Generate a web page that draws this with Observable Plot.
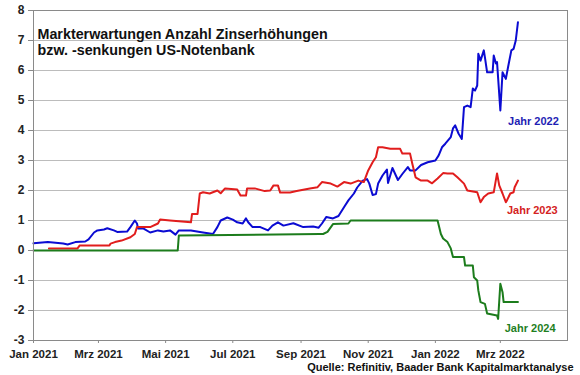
<!DOCTYPE html>
<html>
<head>
<meta charset="utf-8">
<script src="https://cdn.jsdelivr.net/npm/d3@7"></script>
<script src="https://cdn.jsdelivr.net/npm/@observablehq/plot@0.6"></script>
<style>
  html, body { margin: 0; padding: 0; background: #ffffff; }
  #chart { width: 580px; height: 375px; }
</style>
</head>
<body>
<div id="chart"></div>
<script>
// ---- Data ----
const titleText = "Markterwartungen Anzahl Zinserhöhungen\nbzw. -senkungen US-Notenbank";
const sourceText = "Quelle: Refinitiv, Baader Bank Kapitalmarktanalyse";

const yTicks = [-3, -2, -1, 0, 1, 2, 3, 4, 5, 6, 7, 8];
const xTickDates = ["2021-01-01", "2021-03-01", "2021-05-01", "2021-07-01", "2021-09-01", "2021-11-01", "2022-01-01", "2022-03-01"];
const xTickLabels = ["Jan 2021", "Mrz 2021", "Mai 2021", "Jul 2021", "Sep 2021", "Nov 2021", "Jan 2022", "Mrz 2022"];

const seriesNames = ["Jahr 2022", "Jahr 2023", "Jahr 2024"];

const dates2022 = ["2021-01-01","2021-01-14","2021-01-28","2021-02-01","2021-02-08","2021-02-17","2021-02-20","2021-02-25","2021-02-28","2021-03-06","2021-03-09","2021-03-15","2021-03-18","2021-03-27","2021-03-30","2021-04-03","2021-04-05","2021-04-06","2021-04-11","2021-04-17","2021-04-24","2021-04-29","2021-05-05","2021-05-10","2021-05-13","2021-05-24","2021-06-04","2021-06-13","2021-06-17","2021-06-20","2021-06-26","2021-07-01","2021-07-05","2021-07-10","2021-07-13","2021-07-15","2021-07-19","2021-07-26","2021-08-02","2021-08-06","2021-08-11","2021-08-16","2021-08-25","2021-09-03","2021-09-12","2021-09-17","2021-09-20","2021-09-24","2021-09-30","2021-10-05","2021-10-10","2021-10-14","2021-10-19","2021-10-22","2021-10-27","2021-10-31","2021-11-02","2021-11-05","2021-11-08","2021-11-10","2021-11-14","2021-11-18","2021-11-19","2021-11-23","2021-11-28","2021-12-02","2021-12-07","2021-12-09","2021-12-14","2021-12-19","2021-12-25","2022-01-01","2022-01-04","2022-01-07","2022-01-10","2022-01-15","2022-01-17","2022-01-19","2022-01-22","2022-01-25","2022-01-27","2022-01-30","2022-02-02","2022-02-04","2022-02-06","2022-02-08","2022-02-09","2022-02-11","2022-02-14","2022-02-15","2022-02-17","2022-02-22","2022-02-23","2022-02-25","2022-02-26","2022-03-01","2022-03-03","2022-03-06","2022-03-08","2022-03-11","2022-03-13","2022-03-15","2022-03-17"];
const values2022 = [0.24,0.28,0.23,0.20,0.28,0.30,0.37,0.60,0.67,0.70,0.74,0.67,0.62,0.63,0.78,1.00,0.90,0.73,0.73,0.60,0.67,0.63,0.67,0.53,0.67,0.67,0.60,0.55,0.78,1.00,1.10,1.03,0.94,0.90,1.07,0.94,0.78,0.78,0.67,0.83,0.94,0.83,0.91,0.78,0.80,0.76,0.90,1.12,1.07,1.15,1.44,1.67,1.90,2.10,2.33,2.38,2.23,1.85,1.88,2.23,2.50,2.70,2.25,2.75,2.35,2.55,2.78,2.67,2.67,2.85,2.94,3.00,3.17,3.44,3.56,3.78,4.07,4.17,3.90,3.72,4.78,4.83,4.78,5.40,5.33,5.50,6.56,6.33,6.67,6.44,5.94,5.94,6.50,6.23,6.28,4.67,5.94,5.72,6.11,6.67,6.72,7.00,7.61];

const dates2023 = ["2021-01-15","2021-02-10","2021-02-12","2021-03-11","2021-03-12","2021-03-16","2021-03-22","2021-03-30","2021-04-03","2021-04-05","2021-04-17","2021-04-24","2021-04-26","2021-05-05","2021-05-24","2021-05-25","2021-05-30","2021-06-01","2021-06-04","2021-06-10","2021-06-17","2021-06-20","2021-06-24","2021-07-05","2021-07-08","2021-07-13","2021-07-14","2021-07-21","2021-07-30","2021-08-04","2021-08-07","2021-08-11","2021-08-13","2021-08-22","2021-08-28","2021-09-09","2021-09-16","2021-09-20","2021-09-28","2021-10-04","2021-10-10","2021-10-16","2021-10-23","2021-10-28","2021-11-01","2021-11-05","2021-11-08","2021-11-10","2021-11-14","2021-11-21","2021-11-30","2021-12-02","2021-12-09","2021-12-11","2021-12-14","2021-12-19","2021-12-25","2021-12-29","2022-01-03","2022-01-08","2022-01-12","2022-01-17","2022-01-21","2022-01-27","2022-01-30","2022-02-08","2022-02-11","2022-02-14","2022-02-18","2022-02-23","2022-02-26","2022-02-28","2022-03-03","2022-03-06","2022-03-07","2022-03-10","2022-03-13","2022-03-14","2022-03-17"];
const values2023 = [0.07,0.07,0.17,0.17,0.23,0.28,0.33,0.44,0.55,0.78,0.78,0.90,1.03,1.00,0.94,1.22,1.22,1.90,1.94,1.90,2.00,1.91,2.07,2.03,1.83,1.83,2.07,2.07,1.98,2.00,2.17,2.17,1.93,1.93,1.98,2.07,2.11,2.28,2.23,2.13,2.28,2.23,2.33,2.28,2.67,2.94,3.11,3.44,3.44,3.39,3.39,3.23,3.23,2.90,2.44,2.33,2.33,2.24,2.40,2.58,2.57,2.57,2.44,2.23,2.00,1.94,1.61,1.78,1.90,1.94,2.57,2.17,1.90,1.61,1.67,1.90,1.94,2.11,2.33];

const dates2024 = ["2021-01-01","2021-05-12","2021-05-13","2021-09-18","2021-09-21","2021-09-25","2021-09-30","2021-10-14","2021-10-16","2022-01-03","2022-01-06","2022-01-08","2022-01-12","2022-01-15","2022-01-17","2022-01-27","2022-01-28","2022-02-04","2022-02-05","2022-02-08","2022-02-09","2022-02-11","2022-02-15","2022-02-17","2022-02-26","2022-02-27","2022-03-01","2022-03-03","2022-03-04","2022-03-17"];
const values2024 = [0,0,0.50,0.55,0.55,0.62,0.88,0.90,1.00,1.00,0.55,0.40,0.28,0.07,-0.22,-0.22,-0.50,-0.50,-0.89,-1.00,-1.33,-1.72,-1.78,-2.10,-2.17,-2.28,-1.11,-1.39,-1.72,-1.72];

// ---- Build tables ----
const parse = d3.utcParse("%Y-%m-%d");
function rows(dates, values, name) {
  return dates.map((d, i) => ({date: parse(d), value: values[i], series: name}));
}
const data = [
  ...rows(dates2022, values2022, seriesNames[0]),
  ...rows(dates2023, values2023, seriesNames[1]),
  ...rows(dates2024, values2024, seriesNames[2])
];
const tickDates = xTickDates.map(parse);
const tickLabelOf = new Map(tickDates.map((d, i) => [+d, xTickLabels[i]]));

const colors = ["#0b0bd2", "#e11d1d", "#1c7c1c"];
const labelColors = ["#1e1eb4", "#d42222", "#1f7f1f"];
const font = "'Liberation Sans', Arial, Helvetica, sans-serif";

const chart = Plot.plot({
  width: 580,
  height: 375,
  marginLeft: 33,
  marginRight: 13,
  marginTop: 10,
  marginBottom: 35,
  style: {fontFamily: font, fontSize: "11px", fontWeight: "bold", color: "#222", background: "#ffffff", overflow: "visible"},
  x: {type: "utc", domain: [parse("2021-01-01"), parse("2022-05-01")]},
  y: {domain: [-3, 8]},
  color: {domain: seriesNames, range: colors},
  marks: [
    Plot.gridY(yTicks, {stroke: "#bcbcbc", strokeOpacity: 1, strokeWidth: 1}),
    Plot.line(data, {x: "date", y: "value", z: "series", stroke: "series", strokeWidth: 2, curve: "linear"}),
    Plot.frame({stroke: "#8a8a8a", strokeWidth: 1}),
    Plot.axisY(yTicks, {tickSize: 5, tickPadding: 4, stroke: "#8a8a8a", tickFormat: d => String(d), label: null, fontSize: 12, fill: "#222"}),
    Plot.axisX(tickDates, {tickSize: 3, tickPadding: 6, stroke: "#8a8a8a", tickFormat: d => tickLabelOf.get(+d), label: null, fontSize: 11.5, fill: "#222", letterSpacing: "-0.3px"}),
    Plot.text([titleText], {frameAnchor: "top-left", dx: 4, dy: 17, lineAnchor: "top", lineHeight: 1.12, fontSize: 14.3, fontWeight: "bold", fill: "#111", textAnchor: "start"}),
    Plot.text([seriesNames[0]], {x: parse("2022-03-08"), y: 4.17, textAnchor: "start", lineAnchor: "bottom", fill: labelColors[0], fontSize: 11, fontWeight: "bold", letterSpacing: "-0.3px"}),
    Plot.text([seriesNames[1]], {x: parse("2022-03-07"), y: 1.23, textAnchor: "start", lineAnchor: "bottom", fill: labelColors[1], fontSize: 11, fontWeight: "bold", letterSpacing: "-0.3px"}),
    Plot.text([seriesNames[2]], {x: parse("2022-03-05"), y: -2.73, textAnchor: "start", lineAnchor: "bottom", fill: labelColors[2], fontSize: 11, fontWeight: "bold", letterSpacing: "-0.3px"}),
    Plot.text([sourceText], {frameAnchor: "bottom-right", dx: 6, dy: 30, lineAnchor: "bottom", textAnchor: "end", fill: "#111", fontSize: 11, fontWeight: "bold", letterSpacing: "-0.4px"})
  ]
});
document.getElementById("chart").appendChild(chart);
</script>
</body>
</html>
